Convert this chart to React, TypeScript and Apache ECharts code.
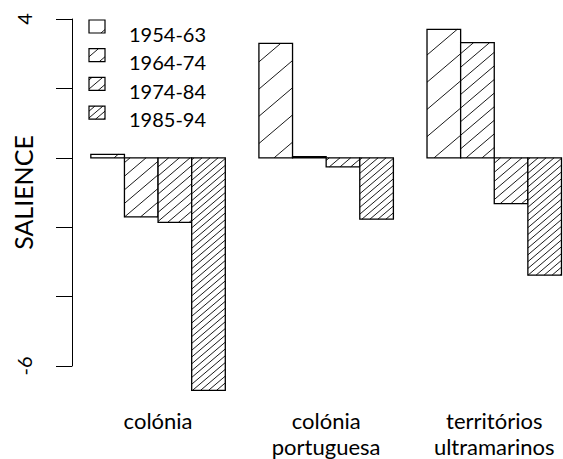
import React, { useEffect, useRef } from "react";
import * as echarts from "echarts";

const categories = ["colónia", "colónia\nportuguesa", "territórios\nultramarinos"];
const periods = ["1954-63", "1964-74", "1974-84", "1985-94"];
const s1954 = [0.1, 3.3, 3.7];
const s1964 = [-1.7, 0.03, 3.32];
const s1974 = [-1.86, -0.26, -1.32];
const s1985 = [-6.7, -1.77, -3.38];
const seriesValues = [s1954, s1964, s1974, s1985];
const yTickLabelsShown = [4, -6];

const FONT = "Lato";
const hatchSpacing = [27.2, 13.6, 9.1, 6.8];
const HATCH_OFFSET = 10;
const SLOPE = 0.85;

function hatchLines(x0: number, y0: number, x1: number, y1: number, spacing: number) {
  const out: any[] = [];
  const cMin = SLOPE * x0 + y0;
  const cMax = SLOPE * x1 + y1;
  const nStart = Math.ceil((cMin - HATCH_OFFSET) / spacing);
  for (let n = nStart; n * spacing + HATCH_OFFSET <= cMax; n++) {
    const c = n * spacing + HATCH_OFFSET;
    const xa = Math.max(x0, (c - y1) / SLOPE);
    const xb = Math.min(x1, (c - y0) / SLOPE);
    if (xb - xa > 0.3) {
      out.push({
        type: "line",
        shape: { x1: xa, y1: c - SLOPE * xa, x2: xb, y2: c - SLOPE * xb },
        style: { stroke: "#1a1a1a", lineWidth: 1 },
        silent: true,
      });
    }
  }
  return out;
}

export default function App() {
  const ref = useRef<HTMLDivElement>(null);
  useEffect(() => {
    if (!ref.current) return;
    const chart = echarts.init(ref.current, null, { renderer: "svg" });

    const legendEls: any[] = [];
    periods.forEach((p, j) => {
      const bx = 89, by = 20 + j * 28.7, bw = 16, bh = 13;
      legendEls.push({ type: "rect", shape: { x: bx, y: by, width: bw, height: bh }, style: { fill: "#fff", stroke: null } });
      hatchLines(bx, by, bx + bw, by + bh, hatchSpacing[j]).forEach((l) => legendEls.push(l));
      legendEls.push({ type: "rect", shape: { x: bx, y: by, width: bw, height: bh }, style: { fill: "none", stroke: "#000", lineWidth: 1.2 } });
      legendEls.push({
        type: "text",
        x: 129,
        y: 33.5 + j * 28.5,
        style: { text: p, fontSize: 20, fontFamily: FONT, fill: "#000", align: "left", verticalAlign: "middle" },
      });
    });

    const series = seriesValues.map((vals, j) => ({
      type: "custom",
      name: periods[j],
      clip: false,
      data: vals.map((v, g) => [g, v]),
      encode: { x: 0, y: 1 },
      renderItem: (params: any, api: any) => {
        const g = api.value(0);
        const v = api.value(1);
        const left = 1 + 5 * g + params.seriesIndex;
        const pa = api.coord([left, v]);
        const pb = api.coord([left + 1, 0]);
        const x0 = Math.min(pa[0], pb[0]);
        const x1 = Math.max(pa[0], pb[0]);
        const y0 = Math.min(pa[1], pb[1]);
        const y1 = Math.max(pa[1], pb[1]);
        const children: any[] = [
          { type: "rect", shape: { x: x0, y: y0, width: x1 - x0, height: y1 - y0 }, style: { fill: "#fff" } },
          ...hatchLines(x0, y0, x1, y1, hatchSpacing[params.seriesIndex]),
          { type: "rect", shape: { x: x0, y: y0, width: x1 - x0, height: y1 - y0 }, style: { fill: "none", stroke: "#000", lineWidth: 1.3 } },
        ];
        return { type: "group", children };
      },
    }));

    chart.setOption({
      animation: false,
      backgroundColor: "#fff",
      textStyle: { fontFamily: FONT },
      grid: { left: 72, right: 0, top: 19, bottom: 93, containLabel: false, outerBoundsMode: "none" },
      xAxis: {
        type: "value",
        min: 0.44,
        max: 15.045,
        axisLine: { show: false },
        axisTick: { show: false },
        splitLine: { show: false },
        axisLabel: {
          customValues: categories.map((_, g) => 3 + 5 * g),
          formatter: (v: number) => categories[Math.round((v - 3) / 5)] ?? "",
          fontSize: 22,
          lineHeight: 26.5,
          margin: 41,
          color: "#000",
          fontFamily: FONT,
        },
      },
      yAxis: {
        type: "value",
        min: -6,
        max: 4,
        interval: 2,
        name: "SALIENCE",
        nameLocation: "middle",
        nameGap: 37,
        nameMoveOverlap: false,
        nameTextStyle: { fontSize: 25, color: "#000", fontFamily: FONT },
        axisLine: { show: true, lineStyle: { color: "#000", width: 1 } },
        axisTick: { show: true, length: 16, lineStyle: { color: "#000", width: 1 } },
        axisLabel: {
          rotate: 90,
          margin: 38,
          fontSize: 20,
          color: "#000",
          fontFamily: FONT,
          formatter: (v: number) => (yTickLabelsShown.includes(v) ? String(v) : ""),
        },
        splitLine: { show: false },
      },
      graphic: legendEls,
      series,
    });
    return () => chart.dispose();
  }, []);
  return <div ref={ref} style={{ position: "fixed", left: 0, top: 0, width: 563, height: 459 }} />;
}
